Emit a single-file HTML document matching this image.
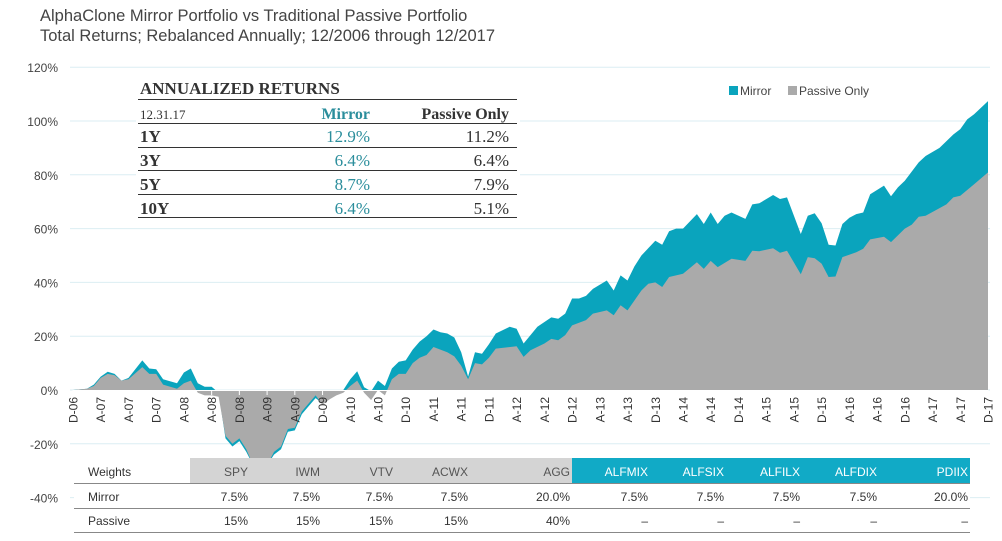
<!DOCTYPE html>
<html><head><meta charset="utf-8"><style>
body{margin:0;background:#fff;}
svg{display:block;font-family:"Liberation Sans",sans-serif;}
</style></head><body>
<svg id="c" width="1002" height="541" viewBox="0 0 1002 541">
<defs><clipPath id="clip"><rect x="60" y="50" width="940" height="408"/></clipPath></defs>
<g>
<text x="40" y="21" font-size="16.5" fill="#444">AlphaClone Mirror Portfolio vs Traditional Passive Portfolio</text>
<text x="40" y="41" font-size="16.5" fill="#444">Total Returns; Rebalanced Annually; 12/2006 through 12/2017</text>
</g>
<g id="grid"></g>
<g id="ylab"></g>
<g id="areas" clip-path="url(#clip)"></g>
<g id="xlab"></g>
<g>
<rect x="729" y="86" width="9" height="9" fill="#0aa4bd"/>
<text x="740" y="95" font-size="12" fill="#444">Mirror</text>
<rect x="788" y="86" width="9" height="9" fill="#aaaaaa"/>
<text x="799" y="95" font-size="12" fill="#444">Passive Only</text>
</g>
<g font-family="'Liberation Serif',serif">
<rect x="136" y="74" width="384" height="146" fill="#fff"/>
<text x="140" y="94" font-size="17" font-weight="bold" fill="#333">ANNUALIZED RETURNS</text>
<line x1="138" y1="99.5" x2="517" y2="99.5" stroke="#333"/>
<text x="140" y="119" font-size="13" fill="#333">12.31.17</text>
<text x="370" y="119" font-size="16" font-weight="bold" fill="#2b8e9c" text-anchor="end">Mirror</text>
<text x="509" y="119" font-size="16" font-weight="bold" fill="#333" text-anchor="end">Passive Only</text>
<line x1="138" y1="123.5" x2="517" y2="123.5" stroke="#333"/>
<g font-size="17" fill="#333">
<text x="140" y="142" font-weight="bold">1Y</text><text x="370" y="142" fill="#2b8e9c" text-anchor="end">12.9%</text><text x="509" y="142" text-anchor="end">11.2%</text>
<line x1="138" y1="147.5" x2="517" y2="147.5" stroke="#333"/>
<text x="140" y="166" font-weight="bold">3Y</text><text x="370" y="166" fill="#2b8e9c" text-anchor="end">6.4%</text><text x="509" y="166" text-anchor="end">6.4%</text>
<line x1="138" y1="170.5" x2="517" y2="170.5" stroke="#333"/>
<text x="140" y="190" font-weight="bold">5Y</text><text x="370" y="190" fill="#2b8e9c" text-anchor="end">8.7%</text><text x="509" y="190" text-anchor="end">7.9%</text>
<line x1="138" y1="194.5" x2="517" y2="194.5" stroke="#333"/>
<text x="140" y="214" font-weight="bold">10Y</text><text x="370" y="214" fill="#2b8e9c" text-anchor="end">6.4%</text><text x="509" y="214" text-anchor="end">5.1%</text>
<line x1="138" y1="217.5" x2="517" y2="217.5" stroke="#333"/>
</g></g>
<g font-size="12" fill="#333">
<rect x="74" y="458" width="896" height="76" fill="#fff"/>
<rect x="190" y="458" width="382" height="25" fill="#d4d4d4"/>
<rect x="572" y="458" width="398" height="25" fill="#11aac6"/>
<line x1="74" y1="483.5" x2="970" y2="483.5" stroke="#888"/>
<line x1="74" y1="508.5" x2="970" y2="508.5" stroke="#888"/>
<line x1="74" y1="532.5" x2="970" y2="532.5" stroke="#888"/>
<g id="wt"></g>
</g>
</svg>
<script>
const yTicks=[120,100,80,60,40,20,0,-20,-40];
const yTickLabels=["120%","100%","80%","60%","40%","20%","0%","-20%","-40%"];
const xTickLabels=["D-06","A-07","A-07","D-07","A-08","A-08","D-08","A-09","A-09","D-09","A-10","A-10","D-10","A-11","A-11","D-11","A-12","A-12","D-12","A-13","A-13","D-13","A-14","A-14","D-14","A-15","A-15","D-15","A-16","A-16","D-16","A-17","A-17","D-17"];
const mirrorMonths=[0,2,3,4,5,6,7,8,10,11,12,13,15,16,17,18,19,20,21,22,23,24,25,26,28,29,30,31,32,33,34,35,36,37,38,39,40,41,42,43,44,45,46,47,48,49,50,51,52,53,54,55,56,57,58,59,60,61,63,64,65,66,67,69,70,71,72,73,74,75,77,78,79,80,81,82,84,85,86,87,88,90,91,92,93,94,95,97,98,99,101,102,103,105,106,107,108,109,110,111,112,113,114,115,117,118,119,120,122,123,125,127,128,129,130,132];
const mirrorVals=[0,0.5,2,5,6.8,6,3.5,4.5,11,8,7.7,4,2.5,6.5,8,2.5,1.2,1.2,-1,-18,-21,-19,-23,-28,-28,-24,-22,-15.5,-15,-9,-6,-3,-5,-3,-1.5,0,4,7,1,-0.5,3.5,1.5,8,10.5,11,15,18,20,22.5,21.5,21,19.5,14,5,14,13.5,17,21,23.5,22.8,17.3,20.4,23.5,27,26.5,28.4,34,34,35,37.6,40.7,37,42.6,40.7,46,50,55.5,54,59,60,60,65.4,61.7,66,61.7,64.8,66,63.6,69,69.4,72.5,71,71.6,58,64.8,65.7,62,54,53.7,61.7,64,65.4,66,72.8,76,72,75.3,77.8,84.6,87,90,95,97,100.6,102.5,107.4];
const passiveMonths=[0,2,3,4,5,6,7,8,10,11,12,13,15,16,17,18,19,20,21,22,23,24,25,26,28,29,30,31,32,33,34,35,36,37,38,39,40,41,42,43,44,45,46,47,48,49,50,51,52,53,54,55,56,57,58,59,60,61,64,65,66,68,69,70,71,72,74,75,77,78,79,80,82,83,84,85,86,88,90,91,92,93,95,97,98,99,101,102,103,105,106,107,108,109,110,111,113,114,115,117,118,120,121,122,123,126,127,128,130,132];
const passiveVals=[0,0.5,1.5,4.5,6,5.5,3.5,4,8.5,6,6,2,0.5,2.5,3.5,-1,-2,-2,-2.5,-17,-20,-18,-22,-28,-28,-23,-21,-14.5,-14,-8,-5,-2,-5.5,-3.5,-2,-1,1.5,3.5,-1,-3.7,0,-2,4,6,6,10,12,13,16,15,14,12.5,9,4,10,9.5,12,15.4,16.3,12.3,14.8,17.3,19,18.5,20.4,24,26,28.4,29.6,27.8,31.5,29.6,37,39.5,40,38.3,42,43.2,47.5,45,48,45.7,48.8,48,51.8,51.6,52.7,51,51.8,43,49.4,49,47,42,42.2,49.4,51.2,52.5,56,57,55,60,61.5,64.4,64.8,69,71.6,72.2,76.5,80.9];
const wHeaders=["SPY","IWM","VTV","ACWX","AGG","ALFMIX","ALFSIX","ALFILX","ALFDIX","PDIIX"];
const wMirror=["7.5%","7.5%","7.5%","7.5%","20.0%","7.5%","7.5%","7.5%","7.5%","20.0%"];
const wPassive=["15%","15%","15%","15%","40%","–","–","–","–","–"];

const NS="http://www.w3.org/2000/svg";
const X=m=>73+m*(915/132);
const Y=v=>390-v*2.69;
function mk(tag,attrs,parent,txt){const e=document.createElementNS(NS,tag);for(const k in attrs)e.setAttribute(k,attrs[k]);if(txt!==undefined)e.textContent=txt;parent.appendChild(e);return e;}
const grid=document.getElementById('grid'),ylab=document.getElementById('ylab');
yTicks.forEach((v,i)=>{
  const l=mk('line',{x1:70,x2:990,y1:Y(v),y2:Y(v),stroke:'#dbeef3','stroke-width':1},grid);
  
  
  const t=mk('text',{x:58,y:Y(v)+5,'font-size':12,fill:'#444','text-anchor':'end'},ylab,yTickLabels[i]);
  
  
});
function area(ms,vs,color,name){
  let d='M'+X(ms[0])+','+Y(0);
  ms.forEach((m,i)=>{d+=' L'+X(m).toFixed(1)+','+Y(vs[i]).toFixed(1);});
  d+=' L'+X(ms[ms.length-1])+','+Y(0)+' Z';
  const p=mk('path',{d:d,fill:color},document.getElementById('areas'));
  
  
}
area(mirrorMonths,mirrorVals,'#0aa4bd','mirror-area');
area(passiveMonths,passiveVals,'#aaaaaa','passive-area');
const xl=document.getElementById('xlab');
mk('line',{x1:73,x2:988,y1:390.5,y2:390.5,stroke:'#fff','stroke-width':1},xl);
xTickLabels.forEach((s,k)=>{
  const x=X(4*k);
  const tk=mk('line',{x1:x,x2:x,y1:390,y2:395,stroke:'#fff'},xl);
  
  
  const t=mk('text',{x:0,y:0,'font-size':12,fill:'#333','text-anchor':'end',transform:'translate('+(x+4.5)+',397) rotate(-90)'},xl,s);
  
  
});
const wt=document.getElementById('wt');
const colR=[248,320,393,468,570,648,724,800,877,968];
mk('text',{x:88,y:476,'font-size':12,fill:'#333'},wt,'Weights');
mk('text',{x:88,y:501,'font-size':12,fill:'#333'},wt,'Mirror');
mk('text',{x:88,y:525,'font-size':12,fill:'#333'},wt,'Passive');
wHeaders.forEach((h,i)=>{
  const t=mk('text',{x:colR[i],y:476,'font-size':12,fill:i<5?'#555':'#fff','text-anchor':'end'},wt,h);
  
  
  const a=mk('text',{x:colR[i],y:501,'font-size':12,fill:'#333','text-anchor':'end'},wt,wMirror[i]);
  
  
  const b=mk('text',{x:colR[i],y:525,'font-size':12,fill:'#333','text-anchor':'end'},wt,wPassive[i]);
  
  
});
</script>
</body></html>
